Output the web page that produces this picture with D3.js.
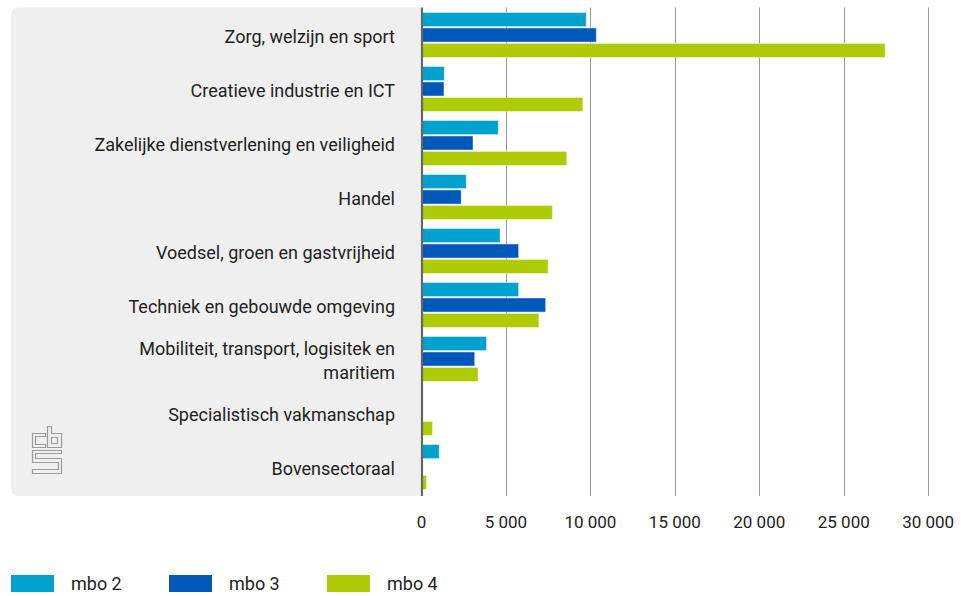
<!DOCTYPE html>
<html>
<head>
<meta charset="utf-8">
<script src="https://cdn.jsdelivr.net/npm/d3@7"></script>
<style>
  html, body { margin: 0; padding: 0; background: #fff; }
  svg { display: block; font-family: Roboto, "Noto Sans", sans-serif; }
</style>
</head>
<body>
<svg id="chart" width="961" height="596"></svg>
<script>
// Number of students per sector, by mbo level
const categories = [
  "Zorg, welzijn en sport",
  "Creatieve industrie en ICT",
  "Zakelijke dienstverlening en veiligheid",
  "Handel",
  "Voedsel, groen en gastvrijheid",
  "Techniek en gebouwde omgeving",
  "Mobiliteit, transport, logisitek en maritiem",
  "Specialistisch vakmanschap",
  "Bovensectoraal"
];
const seriesNames = ["mbo 2", "mbo 3", "mbo 4"];
const mbo2 = [9750, 1350, 4550, 2650, 4650, 5750, 3850, 0, 1050];
const mbo3 = [10350, 1330, 3050, 2350, 5750, 7350, 3150, 0, 0];
const mbo4 = [27450, 9550, 8600, 7750, 7500, 6950, 3350, 650, 300];
const xTicks = [0, 5000, 10000, 15000, 20000, 25000, 30000];
const colors = ["#00a1cd", "#0058b8", "#afcb05"];

const values = [mbo2, mbo3, mbo4];
const rows = categories.map((c, i) => ({
  category: c,
  bars: seriesNames.map((s, j) => ({ series: s, value: values[j][i], color: colors[j] }))
}));

const svg = d3.select("#chart");
const plotTop = 7.5, plotBottom = 496, panelLeft = 11, zeroX = 421.5;

const x = d3.scaleLinear().domain([0, 30000]).range([zeroX, 928.2]);
const y = d3.scaleBand().domain(categories).range([8, 494])
  .paddingInner(0.167).paddingOuter(0.0835);
const ySub = d3.scaleBand().domain(seriesNames).range([0, y.bandwidth()]).paddingInner(0.09);

// Grey label panel, rounded on the left side only
const r = 8;
svg.append("path")
  .attr("d", `M${zeroX},${plotTop} H${panelLeft + r} Q${panelLeft},${plotTop} ${panelLeft},${plotTop + r} V${plotBottom - r} Q${panelLeft},${plotBottom} ${panelLeft + r},${plotBottom} H${zeroX} Z`)
  .attr("fill", "#efefef");

// Vertical gridlines
svg.append("g").selectAll("line")
  .data(xTicks.filter(d => d > 0))
  .join("line")
  .attr("x1", d => Math.round(x(d)) + 0.5)
  .attr("x2", d => Math.round(x(d)) + 0.5)
  .attr("y1", plotTop)
  .attr("y2", plotBottom)
  .attr("stroke", "#9a9a9a")
  .attr("stroke-width", 1);

// Bars
const groups = svg.append("g").selectAll("g")
  .data(rows)
  .join("g")
  .attr("transform", d => `translate(0,${y(d.category)})`);

groups.selectAll("rect")
  .data(d => d.bars.filter(b => b.value > 0))
  .join("rect")
  .attr("x", x(0))
  .attr("y", b => ySub(b.series))
  .attr("width", b => x(b.value) - x(0))
  .attr("height", ySub.bandwidth())
  .attr("fill", b => b.color)
  .attr("stroke", "#ffffff")
  .attr("stroke-opacity", 0.45)
  .attr("stroke-width", 1);

// Zero axis line
svg.append("line")
  .attr("x1", zeroX + 0.5).attr("x2", zeroX + 0.5)
  .attr("y1", plotTop).attr("y2", plotBottom)
  .attr("stroke", "#666").attr("stroke-width", 2.2);

// Category labels, wrapped when too wide
const labelX = 395, maxW = 315, lineH = 24;
const labels = svg.append("g").selectAll("text")
  .data(categories)
  .join("text")
  .attr("x", labelX)
  .attr("text-anchor", "end")
  .attr("font-size", 18)
  .attr("fill", "#222");

labels.each(function (d) {
  const t = d3.select(this);
  const words = d.split(" ");
  const lines = [];
  let line = [];
  const probe = t.append("tspan");
  words.forEach(w => {
    line.push(w);
    probe.text(line.join(" "));
    if (probe.node().getComputedTextLength() > maxW && line.length > 1) {
      line.pop();
      lines.push(line.join(" "));
      line = [w];
    }
  });
  lines.push(line.join(" "));
  probe.remove();
  const cy = y(d) + y.bandwidth() / 2 + 1.5;
  lines.forEach((l, i) => {
    t.append("tspan")
      .attr("x", labelX)
      .attr("y", cy + (i - (lines.length - 1) / 2) * lineH)
      .attr("dy", "0.35em")
      .text(l);
  });
});

// X axis tick labels
const fmt = v => d3.format(",")(v).replace(/,/g, " ");
svg.append("g").selectAll("text")
  .data(xTicks)
  .join("text")
  .attr("x", d => x(d))
  .attr("y", 522)
  .attr("dy", "0.35em")
  .attr("text-anchor", "middle")
  .attr("font-size", 17)
  .attr("fill", "#222")
  .text(fmt);

// Legend
const legend = svg.append("g").selectAll("g")
  .data(seriesNames)
  .join("g")
  .attr("transform", (d, i) => `translate(${11 + i * 158},575)`);
legend.append("rect")
  .attr("width", 43).attr("height", 17)
  .attr("fill", (d, i) => colors[i]);
legend.append("text")
  .attr("x", 60).attr("y", 8.5).attr("dy", "0.35em")
  .attr("font-size", 18).attr("fill", "#222")
  .text(d => d);

// CBS logo mark
const logo = svg.append("g")
  .attr("fill", "none").attr("stroke", "#9c9c9c").attr("stroke-width", 1.2)
  .attr("stroke-linejoin", "miter");
// c
logo.append("path").attr("d", "M45.5,433.5 H32.5 V447.5 H45.5 V444.5 H35.5 V436.5 H45.5 Z");
// b
logo.append("path").attr("d", "M47.5,426.5 H51.5 V433.5 H61.5 V447.5 H47.5 Z");
logo.append("path").attr("d", "M51.5,437.5 H57.5 V443.5 H51.5 Z");
// s
logo.append("path").attr("d", "M61.5,450.5 H32.5 V462.5 H58.5 V469.5 H32.5 V473.5 H61.5 V458.5 H35.5 V453.5 H61.5 Z");
</script>
</body>
</html>
